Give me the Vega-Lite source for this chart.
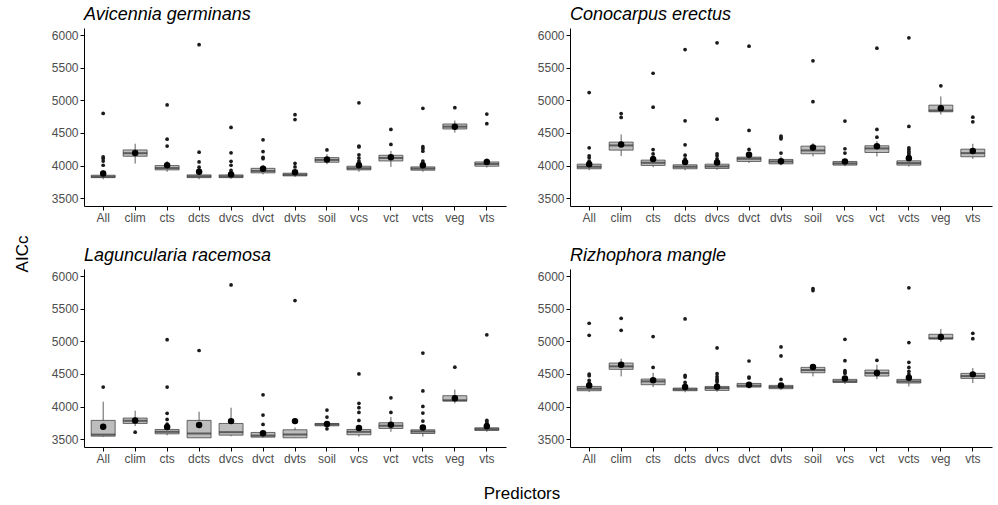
{
"$schema": "https://vega.github.io/schema/vega-lite/v6.json",
"padding": {"left": 14, "top": 6, "right": 4, "bottom": 5},
"background": "white",
"title": {"text": "AICc", "orient": "left", "anchor": "middle", "fontSize": 17, "fontWeight": "normal", "font": "Liberation Sans", "color": "black", "offset": 19},
"data": {"values": [
{"sp":"Avicennia germinans","pred":"All","kind":"box","lo":3790,"q1":3815,"med":3830,"q3":3852,"hi":3870,"mean":3880},
{"sp":"Avicennia germinans","pred":"clim","kind":"box","lo":4030,"q1":4143,"med":4190,"q3":4240,"hi":4335,"mean":4192},
{"sp":"Avicennia germinans","pred":"cts","kind":"box","lo":3905,"q1":3934,"med":3962,"q3":4000,"hi":4070,"mean":4005},
{"sp":"Avicennia germinans","pred":"dcts","kind":"box","lo":3790,"q1":3815,"med":3835,"q3":3857,"hi":3880,"mean":3905},
{"sp":"Avicennia germinans","pred":"dvcs","kind":"box","lo":3795,"q1":3815,"med":3835,"q3":3857,"hi":3880,"mean":3865},
{"sp":"Avicennia germinans","pred":"dvct","kind":"box","lo":3865,"q1":3888,"med":3918,"q3":3958,"hi":4010,"mean":3950},
{"sp":"Avicennia germinans","pred":"dvts","kind":"box","lo":3825,"q1":3842,"med":3860,"q3":3883,"hi":3905,"mean":3898},
{"sp":"Avicennia germinans","pred":"soil","kind":"box","lo":4020,"q1":4051,"med":4087,"q3":4122,"hi":4175,"mean":4092},
{"sp":"Avicennia germinans","pred":"vcs","kind":"box","lo":3905,"q1":3934,"med":3958,"q3":3990,"hi":4030,"mean":4005},
{"sp":"Avicennia germinans","pred":"vct","kind":"box","lo":3980,"q1":4071,"med":4117,"q3":4158,"hi":4225,"mean":4128},
{"sp":"Avicennia germinans","pred":"vcts","kind":"box","lo":3905,"q1":3929,"med":3954,"q3":3980,"hi":4020,"mean":4005},
{"sp":"Avicennia germinans","pred":"veg","kind":"box","lo":4505,"q1":4561,"med":4597,"q3":4638,"hi":4690,"mean":4597},
{"sp":"Avicennia germinans","pred":"vts","kind":"box","lo":3970,"q1":3990,"med":4025,"q3":4056,"hi":4112,"mean":4056},
{"sp":"Avicennia germinans","pred":"All","kind":"out","v":4800},
{"sp":"Avicennia germinans","pred":"All","kind":"out","v":4135},
{"sp":"Avicennia germinans","pred":"All","kind":"out","v":4110},
{"sp":"Avicennia germinans","pred":"All","kind":"out","v":4070},
{"sp":"Avicennia germinans","pred":"All","kind":"out","v":4005},
{"sp":"Avicennia germinans","pred":"All","kind":"out","v":3895},
{"sp":"Avicennia germinans","pred":"cts","kind":"out","v":4930},
{"sp":"Avicennia germinans","pred":"cts","kind":"out","v":4405},
{"sp":"Avicennia germinans","pred":"cts","kind":"out","v":4300},
{"sp":"Avicennia germinans","pred":"dcts","kind":"out","v":5855},
{"sp":"Avicennia germinans","pred":"dcts","kind":"out","v":4205},
{"sp":"Avicennia germinans","pred":"dcts","kind":"out","v":4055},
{"sp":"Avicennia germinans","pred":"dcts","kind":"out","v":3975},
{"sp":"Avicennia germinans","pred":"dcts","kind":"out","v":3920},
{"sp":"Avicennia germinans","pred":"dvcs","kind":"out","v":4585},
{"sp":"Avicennia germinans","pred":"dvcs","kind":"out","v":4195},
{"sp":"Avicennia germinans","pred":"dvcs","kind":"out","v":4065},
{"sp":"Avicennia germinans","pred":"dvcs","kind":"out","v":4005},
{"sp":"Avicennia germinans","pred":"dvcs","kind":"out","v":3925},
{"sp":"Avicennia germinans","pred":"dvcs","kind":"out","v":3890},
{"sp":"Avicennia germinans","pred":"dvct","kind":"out","v":4395},
{"sp":"Avicennia germinans","pred":"dvct","kind":"out","v":4215},
{"sp":"Avicennia germinans","pred":"dvct","kind":"out","v":4125},
{"sp":"Avicennia germinans","pred":"dvct","kind":"out","v":4105},
{"sp":"Avicennia germinans","pred":"dvts","kind":"out","v":4780},
{"sp":"Avicennia germinans","pred":"dvts","kind":"out","v":4705},
{"sp":"Avicennia germinans","pred":"dvts","kind":"out","v":4035},
{"sp":"Avicennia germinans","pred":"dvts","kind":"out","v":3980},
{"sp":"Avicennia germinans","pred":"soil","kind":"out","v":4240},
{"sp":"Avicennia germinans","pred":"vcs","kind":"out","v":4962},
{"sp":"Avicennia germinans","pred":"vcs","kind":"out","v":4300},
{"sp":"Avicennia germinans","pred":"vcs","kind":"out","v":4285},
{"sp":"Avicennia germinans","pred":"vcs","kind":"out","v":4165},
{"sp":"Avicennia germinans","pred":"vcs","kind":"out","v":4115},
{"sp":"Avicennia germinans","pred":"vcs","kind":"out","v":4070},
{"sp":"Avicennia germinans","pred":"vcs","kind":"out","v":4040},
{"sp":"Avicennia germinans","pred":"vct","kind":"out","v":4555},
{"sp":"Avicennia germinans","pred":"vct","kind":"out","v":4325},
{"sp":"Avicennia germinans","pred":"vcts","kind":"out","v":4878},
{"sp":"Avicennia germinans","pred":"vcts","kind":"out","v":4290},
{"sp":"Avicennia germinans","pred":"vcts","kind":"out","v":4260},
{"sp":"Avicennia germinans","pred":"vcts","kind":"out","v":4220},
{"sp":"Avicennia germinans","pred":"vcts","kind":"out","v":4070},
{"sp":"Avicennia germinans","pred":"vcts","kind":"out","v":4036},
{"sp":"Avicennia germinans","pred":"veg","kind":"out","v":4888},
{"sp":"Avicennia germinans","pred":"vts","kind":"out","v":4790},
{"sp":"Avicennia germinans","pred":"vts","kind":"out","v":4643},

{"sp":"Conocarpus erectus","pred":"All","kind":"box","lo":3930,"q1":3951,"med":3982,"q3":4022,"hi":4060,"mean":4022},
{"sp":"Conocarpus erectus","pred":"clim","kind":"box","lo":4145,"q1":4237,"med":4309,"q3":4360,"hi":4477,"mean":4324},
{"sp":"Conocarpus erectus","pred":"cts","kind":"box","lo":3975,"q1":4002,"med":4043,"q3":4084,"hi":4110,"mean":4099},
{"sp":"Conocarpus erectus","pred":"dcts","kind":"box","lo":3930,"q1":3951,"med":3982,"q3":4012,"hi":4040,"mean":4053},
{"sp":"Conocarpus erectus","pred":"dvcs","kind":"box","lo":3935,"q1":3956,"med":3987,"q3":4022,"hi":4050,"mean":4048},
{"sp":"Conocarpus erectus","pred":"dvct","kind":"box","lo":4040,"q1":4063,"med":4104,"q3":4130,"hi":4170,"mean":4166},
{"sp":"Conocarpus erectus","pred":"dvts","kind":"box","lo":4005,"q1":4027,"med":4063,"q3":4094,"hi":4140,"mean":4068},
{"sp":"Conocarpus erectus","pred":"soil","kind":"box","lo":4140,"q1":4181,"med":4232,"q3":4298,"hi":4344,"mean":4278},
{"sp":"Conocarpus erectus","pred":"vcs","kind":"box","lo":3990,"q1":4007,"med":4033,"q3":4063,"hi":4100,"mean":4063},
{"sp":"Conocarpus erectus","pred":"vct","kind":"box","lo":4140,"q1":4201,"med":4263,"q3":4304,"hi":4375,"mean":4298},
{"sp":"Conocarpus erectus","pred":"vcts","kind":"box","lo":3985,"q1":4007,"med":4038,"q3":4073,"hi":4110,"mean":4114},
{"sp":"Conocarpus erectus","pred":"veg","kind":"box","lo":4784,"q1":4825,"med":4845,"q3":4927,"hi":5060,"mean":4881},
{"sp":"Conocarpus erectus","pred":"vts","kind":"box","lo":4104,"q1":4135,"med":4191,"q3":4252,"hi":4334,"mean":4222},
{"sp":"Conocarpus erectus","pred":"All","kind":"out","v":5120},
{"sp":"Conocarpus erectus","pred":"All","kind":"out","v":4272},
{"sp":"Conocarpus erectus","pred":"All","kind":"out","v":4150},
{"sp":"Conocarpus erectus","pred":"All","kind":"out","v":4120},
{"sp":"Conocarpus erectus","pred":"All","kind":"out","v":4068},
{"sp":"Conocarpus erectus","pred":"clim","kind":"out","v":4798},
{"sp":"Conocarpus erectus","pred":"clim","kind":"out","v":4738},
{"sp":"Conocarpus erectus","pred":"cts","kind":"out","v":5416},
{"sp":"Conocarpus erectus","pred":"cts","kind":"out","v":4895},
{"sp":"Conocarpus erectus","pred":"cts","kind":"out","v":4246},
{"sp":"Conocarpus erectus","pred":"cts","kind":"out","v":4180},
{"sp":"Conocarpus erectus","pred":"cts","kind":"out","v":4130},
{"sp":"Conocarpus erectus","pred":"dcts","kind":"out","v":5780},
{"sp":"Conocarpus erectus","pred":"dcts","kind":"out","v":4687},
{"sp":"Conocarpus erectus","pred":"dcts","kind":"out","v":4319},
{"sp":"Conocarpus erectus","pred":"dcts","kind":"out","v":4160},
{"sp":"Conocarpus erectus","pred":"dcts","kind":"out","v":4104},
{"sp":"Conocarpus erectus","pred":"dcts","kind":"out","v":4070},
{"sp":"Conocarpus erectus","pred":"dvcs","kind":"out","v":5882},
{"sp":"Conocarpus erectus","pred":"dvcs","kind":"out","v":4712},
{"sp":"Conocarpus erectus","pred":"dvcs","kind":"out","v":4181},
{"sp":"Conocarpus erectus","pred":"dvcs","kind":"out","v":4150},
{"sp":"Conocarpus erectus","pred":"dvcs","kind":"out","v":4104},
{"sp":"Conocarpus erectus","pred":"dvcs","kind":"out","v":4070},
{"sp":"Conocarpus erectus","pred":"dvct","kind":"out","v":5831},
{"sp":"Conocarpus erectus","pred":"dvct","kind":"out","v":4539},
{"sp":"Conocarpus erectus","pred":"dvct","kind":"out","v":4247},
{"sp":"Conocarpus erectus","pred":"dvct","kind":"out","v":4181},
{"sp":"Conocarpus erectus","pred":"dvts","kind":"out","v":4452},
{"sp":"Conocarpus erectus","pred":"dvts","kind":"out","v":4430},
{"sp":"Conocarpus erectus","pred":"dvts","kind":"out","v":4411},
{"sp":"Conocarpus erectus","pred":"dvts","kind":"out","v":4191},
{"sp":"Conocarpus erectus","pred":"soil","kind":"out","v":5607},
{"sp":"Conocarpus erectus","pred":"soil","kind":"out","v":4979},
{"sp":"Conocarpus erectus","pred":"vcs","kind":"out","v":4682},
{"sp":"Conocarpus erectus","pred":"vcs","kind":"out","v":4258},
{"sp":"Conocarpus erectus","pred":"vcs","kind":"out","v":4191},
{"sp":"Conocarpus erectus","pred":"vct","kind":"out","v":5800},
{"sp":"Conocarpus erectus","pred":"vct","kind":"out","v":4554},
{"sp":"Conocarpus erectus","pred":"vct","kind":"out","v":4436},
{"sp":"Conocarpus erectus","pred":"vcts","kind":"out","v":5959},
{"sp":"Conocarpus erectus","pred":"vcts","kind":"out","v":4600},
{"sp":"Conocarpus erectus","pred":"vcts","kind":"out","v":4273},
{"sp":"Conocarpus erectus","pred":"vcts","kind":"out","v":4245},
{"sp":"Conocarpus erectus","pred":"vcts","kind":"out","v":4215},
{"sp":"Conocarpus erectus","pred":"vcts","kind":"out","v":4190},
{"sp":"Conocarpus erectus","pred":"vcts","kind":"out","v":4160},
{"sp":"Conocarpus erectus","pred":"veg","kind":"out","v":5223},
{"sp":"Conocarpus erectus","pred":"vts","kind":"out","v":4743},
{"sp":"Conocarpus erectus","pred":"vts","kind":"out","v":4671},

{"sp":"Laguncularia racemosa","pred":"All","kind":"box","lo":3536,"q1":3546,"med":3570,"q3":3788,"hi":4075,"mean":3690},
{"sp":"Laguncularia racemosa","pred":"clim","kind":"box","lo":3700,"q1":3741,"med":3782,"q3":3824,"hi":3937,"mean":3788},
{"sp":"Laguncularia racemosa","pred":"cts","kind":"box","lo":3560,"q1":3582,"med":3613,"q3":3649,"hi":3700,"mean":3685},
{"sp":"Laguncularia racemosa","pred":"dcts","kind":"box","lo":3521,"q1":3521,"med":3587,"q3":3788,"hi":3921,"mean":3716},
{"sp":"Laguncularia racemosa","pred":"dvcs","kind":"box","lo":3545,"q1":3562,"med":3608,"q3":3741,"hi":3983,"mean":3777},
{"sp":"Laguncularia racemosa","pred":"dvct","kind":"box","lo":3521,"q1":3531,"med":3555,"q3":3603,"hi":3640,"mean":3592},
{"sp":"Laguncularia racemosa","pred":"dvts","kind":"box","lo":3521,"q1":3521,"med":3572,"q3":3644,"hi":3680,"mean":3777},
{"sp":"Laguncularia racemosa","pred":"soil","kind":"box","lo":3690,"q1":3705,"med":3726,"q3":3741,"hi":3760,"mean":3731},
{"sp":"Laguncularia racemosa","pred":"vcs","kind":"box","lo":3540,"q1":3567,"med":3613,"q3":3649,"hi":3700,"mean":3670},
{"sp":"Laguncularia racemosa","pred":"vct","kind":"box","lo":3613,"q1":3664,"med":3706,"q3":3752,"hi":3839,"mean":3721},
{"sp":"Laguncularia racemosa","pred":"vcts","kind":"box","lo":3540,"q1":3587,"med":3618,"q3":3644,"hi":3680,"mean":3680},
{"sp":"Laguncularia racemosa","pred":"veg","kind":"box","lo":4050,"q1":4085,"med":4096,"q3":4167,"hi":4260,"mean":4127},
{"sp":"Laguncularia racemosa","pred":"vts","kind":"box","lo":3613,"q1":3634,"med":3654,"q3":3675,"hi":3700,"mean":3700},
{"sp":"Laguncularia racemosa","pred":"All","kind":"out","v":4300},
{"sp":"Laguncularia racemosa","pred":"clim","kind":"out","v":3608},
{"sp":"Laguncularia racemosa","pred":"cts","kind":"out","v":5025},
{"sp":"Laguncularia racemosa","pred":"cts","kind":"out","v":4300},
{"sp":"Laguncularia racemosa","pred":"cts","kind":"out","v":3896},
{"sp":"Laguncularia racemosa","pred":"cts","kind":"out","v":3803},
{"sp":"Laguncularia racemosa","pred":"cts","kind":"out","v":3731},
{"sp":"Laguncularia racemosa","pred":"dcts","kind":"out","v":4860},
{"sp":"Laguncularia racemosa","pred":"dvcs","kind":"out","v":5865},
{"sp":"Laguncularia racemosa","pred":"dvct","kind":"out","v":4180},
{"sp":"Laguncularia racemosa","pred":"dvct","kind":"out","v":3870},
{"sp":"Laguncularia racemosa","pred":"dvct","kind":"out","v":3726},
{"sp":"Laguncularia racemosa","pred":"dvts","kind":"out","v":5625},
{"sp":"Laguncularia racemosa","pred":"soil","kind":"out","v":3947},
{"sp":"Laguncularia racemosa","pred":"soil","kind":"out","v":3839},
{"sp":"Laguncularia racemosa","pred":"soil","kind":"out","v":3659},
{"sp":"Laguncularia racemosa","pred":"vcs","kind":"out","v":4500},
{"sp":"Laguncularia racemosa","pred":"vcs","kind":"out","v":4050},
{"sp":"Laguncularia racemosa","pred":"vcs","kind":"out","v":3983},
{"sp":"Laguncularia racemosa","pred":"vcs","kind":"out","v":3911},
{"sp":"Laguncularia racemosa","pred":"vcs","kind":"out","v":3788},
{"sp":"Laguncularia racemosa","pred":"vct","kind":"out","v":4135},
{"sp":"Laguncularia racemosa","pred":"vct","kind":"out","v":3911},
{"sp":"Laguncularia racemosa","pred":"vcts","kind":"out","v":4820},
{"sp":"Laguncularia racemosa","pred":"vcts","kind":"out","v":4240},
{"sp":"Laguncularia racemosa","pred":"vcts","kind":"out","v":4003},
{"sp":"Laguncularia racemosa","pred":"vcts","kind":"out","v":3901},
{"sp":"Laguncularia racemosa","pred":"vcts","kind":"out","v":3777},
{"sp":"Laguncularia racemosa","pred":"veg","kind":"out","v":4605},
{"sp":"Laguncularia racemosa","pred":"vts","kind":"out","v":5100},
{"sp":"Laguncularia racemosa","pred":"vts","kind":"out","v":3790},
{"sp":"Laguncularia racemosa","pred":"vts","kind":"out","v":3765},
{"sp":"Laguncularia racemosa","pred":"vts","kind":"out","v":3745},

{"sp":"Rizhophora mangle","pred":"All","kind":"box","lo":4222,"q1":4243,"med":4274,"q3":4309,"hi":4340,"mean":4325},
{"sp":"Rizhophora mangle","pred":"clim","kind":"box","lo":4463,"q1":4571,"med":4617,"q3":4668,"hi":4735,"mean":4642},
{"sp":"Rizhophora mangle","pred":"cts","kind":"box","lo":4299,"q1":4335,"med":4386,"q3":4422,"hi":4519,"mean":4402},
{"sp":"Rizhophora mangle","pred":"dcts","kind":"box","lo":4220,"q1":4243,"med":4263,"q3":4284,"hi":4310,"mean":4299},
{"sp":"Rizhophora mangle","pred":"dvcs","kind":"box","lo":4225,"q1":4248,"med":4284,"q3":4309,"hi":4340,"mean":4304},
{"sp":"Rizhophora mangle","pred":"dvct","kind":"box","lo":4275,"q1":4299,"med":4320,"q3":4355,"hi":4380,"mean":4335},
{"sp":"Rizhophora mangle","pred":"dvts","kind":"box","lo":4255,"q1":4274,"med":4300,"q3":4325,"hi":4350,"mean":4325},
{"sp":"Rizhophora mangle","pred":"soil","kind":"box","lo":4463,"q1":4519,"med":4560,"q3":4601,"hi":4642,"mean":4607},
{"sp":"Rizhophora mangle","pred":"vcs","kind":"box","lo":4345,"q1":4371,"med":4386,"q3":4417,"hi":4440,"mean":4432},
{"sp":"Rizhophora mangle","pred":"vct","kind":"box","lo":4422,"q1":4468,"med":4514,"q3":4560,"hi":4642,"mean":4514},
{"sp":"Rizhophora mangle","pred":"vcts","kind":"box","lo":4309,"q1":4361,"med":4386,"q3":4417,"hi":4440,"mean":4443},
{"sp":"Rizhophora mangle","pred":"veg","kind":"box","lo":4991,"q1":5037,"med":5047,"q3":5109,"hi":5191,"mean":5068},
{"sp":"Rizhophora mangle","pred":"vts","kind":"box","lo":4361,"q1":4432,"med":4468,"q3":4509,"hi":4591,"mean":4494},
{"sp":"Rizhophora mangle","pred":"All","kind":"out","v":5278},
{"sp":"Rizhophora mangle","pred":"All","kind":"out","v":5093},
{"sp":"Rizhophora mangle","pred":"All","kind":"out","v":4499},
{"sp":"Rizhophora mangle","pred":"All","kind":"out","v":4473},
{"sp":"Rizhophora mangle","pred":"All","kind":"out","v":4401},
{"sp":"Rizhophora mangle","pred":"All","kind":"out","v":4360},
{"sp":"Rizhophora mangle","pred":"clim","kind":"out","v":5354},
{"sp":"Rizhophora mangle","pred":"clim","kind":"out","v":5170},
{"sp":"Rizhophora mangle","pred":"cts","kind":"out","v":5073},
{"sp":"Rizhophora mangle","pred":"cts","kind":"out","v":4601},
{"sp":"Rizhophora mangle","pred":"dcts","kind":"out","v":5344},
{"sp":"Rizhophora mangle","pred":"dcts","kind":"out","v":4478},
{"sp":"Rizhophora mangle","pred":"dcts","kind":"out","v":4453},
{"sp":"Rizhophora mangle","pred":"dcts","kind":"out","v":4371},
{"sp":"Rizhophora mangle","pred":"dcts","kind":"out","v":4320},
{"sp":"Rizhophora mangle","pred":"dvcs","kind":"out","v":4899},
{"sp":"Rizhophora mangle","pred":"dvcs","kind":"out","v":4504},
{"sp":"Rizhophora mangle","pred":"dvcs","kind":"out","v":4458},
{"sp":"Rizhophora mangle","pred":"dvcs","kind":"out","v":4422},
{"sp":"Rizhophora mangle","pred":"dvcs","kind":"out","v":4401},
{"sp":"Rizhophora mangle","pred":"dvcs","kind":"out","v":4375},
{"sp":"Rizhophora mangle","pred":"dvct","kind":"out","v":4699},
{"sp":"Rizhophora mangle","pred":"dvct","kind":"out","v":4453},
{"sp":"Rizhophora mangle","pred":"dvct","kind":"out","v":4437},
{"sp":"Rizhophora mangle","pred":"dvts","kind":"out","v":4914},
{"sp":"Rizhophora mangle","pred":"dvts","kind":"out","v":4776},
{"sp":"Rizhophora mangle","pred":"dvts","kind":"out","v":4417},
{"sp":"Rizhophora mangle","pred":"soil","kind":"out","v":5810},
{"sp":"Rizhophora mangle","pred":"soil","kind":"out","v":5780},
{"sp":"Rizhophora mangle","pred":"vcs","kind":"out","v":5032},
{"sp":"Rizhophora mangle","pred":"vcs","kind":"out","v":4704},
{"sp":"Rizhophora mangle","pred":"vcs","kind":"out","v":4550},
{"sp":"Rizhophora mangle","pred":"vcs","kind":"out","v":4530},
{"sp":"Rizhophora mangle","pred":"vcs","kind":"out","v":4510},
{"sp":"Rizhophora mangle","pred":"vct","kind":"out","v":4709},
{"sp":"Rizhophora mangle","pred":"vcts","kind":"out","v":5821},
{"sp":"Rizhophora mangle","pred":"vcts","kind":"out","v":4981},
{"sp":"Rizhophora mangle","pred":"vcts","kind":"out","v":4678},
{"sp":"Rizhophora mangle","pred":"vcts","kind":"out","v":4601},
{"sp":"Rizhophora mangle","pred":"vcts","kind":"out","v":4540},
{"sp":"Rizhophora mangle","pred":"vcts","kind":"out","v":4499},
{"sp":"Rizhophora mangle","pred":"vts","kind":"out","v":5124},
{"sp":"Rizhophora mangle","pred":"vts","kind":"out","v":5042}
]},
"facet": {"field": "sp", "type": "nominal",
  "sort": ["Avicennia germinans","Conocarpus erectus","Laguncularia racemosa","Rizhophora mangle"],
  "header": {"title": "Predictors", "titleOrient": "bottom", "titleFontSize": 17, "titleFontWeight": "normal", "titleFont": "Liberation Sans", "titleColor": "black", "titlePadding": 22,
    "labelFontSize": 18, "labelFontStyle": "italic", "labelFont": "Liberation Sans", "labelColor": "black", "labelAnchor": "start", "labelPadding": 4}},
"columns": 2,
"spacing": {"row": 24, "column": 31},
"resolve": {"axis": {"x": "independent", "y": "independent"}},
"spec": {
  "width": 422, "height": 178,
  "encoding": {
    "x": {"field": "pred", "type": "nominal", "sort": ["All","clim","cts","dcts","dvcs","dvct","dvts","soil","vcs","vct","vcts","veg","vts"],
      "scale": {"paddingInner": 0, "paddingOuter": 0.1}, "axis": {"title": null, "labelAngle": 0}}
  },
  "layer": [
    {"transform": [{"filter": "datum.kind == 'box'"}], "mark": {"type": "rule", "color": "#333333", "strokeWidth": 0.8},
     "encoding": {"y": {"field": "lo", "type": "quantitative", "scale": {"domain": [3380, 6110], "nice": false, "zero": false}, "axis": {"title": null, "values": [3500,4000,4500,5000,5500,6000], "format": "d", "labelOverlap": false, "tickCount": 6}}, "y2": {"field": "hi"}}},
    {"transform": [{"filter": "datum.kind == 'box'"}], "mark": {"type": "bar", "fill": "#bdbdbd", "stroke": "#333333", "strokeWidth": 0.7, "width": {"band": 0.75}},
     "encoding": {"y": {"field": "q1", "type": "quantitative", "axis": {"title": null, "values": [3500,4000,4500,5000,5500,6000], "format": "d", "labelOverlap": false, "tickCount": 6}}, "y2": {"field": "q3"}}},
    {"transform": [{"filter": "datum.kind == 'box'"}], "mark": {"type": "tick", "color": "#333333", "thickness": 2, "size": 24},
     "encoding": {"y": {"field": "med", "type": "quantitative", "axis": {"title": null, "values": [3500,4000,4500,5000,5500,6000], "format": "d", "labelOverlap": false, "tickCount": 6}}}},
    {"transform": [{"filter": "datum.kind == 'out'"}], "mark": {"type": "point", "filled": true, "color": "#1a1a1a", "opacity": 1, "size": 14},
     "encoding": {"y": {"field": "v", "type": "quantitative", "axis": {"title": null, "values": [3500,4000,4500,5000,5500,6000], "format": "d", "labelOverlap": false, "tickCount": 6}}}},
    {"transform": [{"filter": "datum.kind == 'box'"}], "mark": {"type": "point", "filled": true, "color": "black", "opacity": 1, "size": 42},
     "encoding": {"y": {"field": "mean", "type": "quantitative", "axis": {"title": null, "values": [3500,4000,4500,5000,5500,6000], "format": "d", "labelOverlap": false, "tickCount": 6}}}}
  ]
},
"config": {
  "view": {"stroke": null},
  "font": "Liberation Sans",
  "axis": {"grid": false, "domainColor": "black", "tickColor": "black", "labelColor": "#4d4d4d", "labelFontSize": 12, "labelFont": "Liberation Sans", "tickSize": 4, "labelPadding": 2, "labelOverlap": false}
}
}
